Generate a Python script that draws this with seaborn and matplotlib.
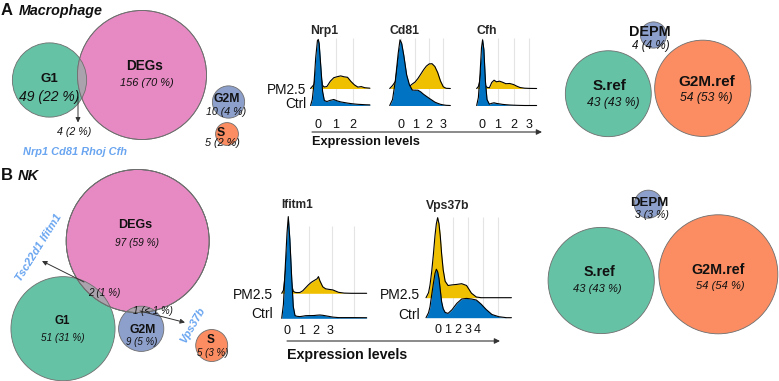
"""Macrophage / NK: Venn pe faze de ciclu celular si ridgeline-uri de expresie."""

import matplotlib.pyplot as plt
import numpy as np
import seaborn as sns
from matplotlib.patches import Circle

sns.set_theme(style="white")
plt.rcParams["font.family"] = ["Liberation Sans", "DejaVu Sans"]

W, H = 779, 381

# ---- date ----
cell_sets = ["G1", "DEGs", "G2M", "S"]
mac_only = [49, 156, 10, 5]
mac_g1_degs = 4
mac_genes = ["Nrp1", "Cd81", "Rhoj", "Cfh"]

nk_only = [51, 97, 9, 5]
nk_g1_degs = 2
nk_g2m_degs = 1
nk_genes_g1 = ["Tsc22d1", "Ifitm1"]
nk_genes_g2m = ["Vps37b"]

ref_sets = ["S.ref", "G2M.ref", "DEPM"]
mac_ref = [43, 54, 4]
nk_ref = [43, 54, 3]

groups = ["Ctrl", "PM2.5"]

# inaltimi de densitate
nrp1_x = [-0.45, -0.35, -0.25, -0.15, -0.05, 0.0, 0.05, 0.15, 0.25, 0.35, 0.5, 0.7,
          0.9, 1.1, 1.3, 1.5, 1.7, 1.9, 2.1, 2.3, 2.5, 2.7, 3.0]
nrp1_ctrl = [0, 6, 22, 48, 65, 66, 62, 38, 14, 5, 4, 5.2, 6, 4.6, 3.6, 3, 2.4, 1.9,
             1.5, 1.2, 1, 0.8, 0.6]
nrp1_pm = [0, 2, 4, 14, 28, 30, 28, 12, 3, 1.5, 2, 7.3, 10.8, 11.8, 12.6, 11.7, 11.2,
           7, 3.6, 1.4, 1.9, 0.8, 0.3]

cd81_x = [-0.8, -0.6, -0.4, -0.2, -0.07, 0.05, 0.2, 0.4, 0.6, 0.8, 1.0, 1.2, 1.4,
          1.6, 1.8, 2.0, 2.2, 2.4, 2.6, 2.8, 3.0, 3.2, 3.5]
cd81_ctrl = [0, 6, 25, 52, 65.7, 62, 50, 30.7, 20.5, 15.5, 15.3, 15.3, 13.6, 11.2,
             9.2, 7.2, 5.3, 3.4, 2.2, 1.2, 0.6, 0.2, 0]
cd81_pm = [0, 3, 7, 28, 40, 38, 28, 8, 2.2, 4.5, 6.5, 10, 14.3, 18.7, 22.4, 24.6,
           24.8, 22, 16, 7.5, 1.7, 0.2, 0]

cfh_x = [-0.36, -0.25, -0.15, -0.05, 0.02, 0.1, 0.2, 0.3, 0.45, 0.6, 0.75, 0.9, 1.1,
         1.3, 1.5, 1.75, 2.0, 2.2, 2.4, 2.7, 3.0, 3.46]
cfh_ctrl = [0, 8, 30, 58, 65.7, 56, 24, 6, 1.3, 2.2, 2.7, 2.1, 1.6, 1.1, 0.8, 0.5,
            0.3, 0.2, 0.1, 0, 0, 0]
cfh_pm = [0, 2, 8, 25, 32, 22, 3, 1.2, 0.7, 6, 8.3, 6.7, 7.3, 6.2, 4.8, 5, 3.9, 2.3,
          1, 0.3, 0.1, 0]

ifitm1_x = [-0.37, -0.25, -0.12, 0, 0.09, 0.2, 0.33, 0.44, 0.56, 0.7, 0.9, 1.1, 1.3,
            1.5, 1.7, 1.9, 2.1, 2.2, 2.3, 2.5, 2.7, 2.9, 3.2, 3.6, 4.0, 4.5, 5.57]
ifitm1_ctrl = [0, 14, 52, 85, 101.7, 79, 40, 11.7, 2.7, 2, 1.7, 2.1, 2.6, 2.7, 2.7,
               2.8, 3.1, 3.2, 3.3, 3, 2.5, 2, 1.2, 0.7, 0.7, 0.7, 0.6]
ifitm1_pm = [0, 3, 20, 40, 50, 35, 8, 2, 1, 0.7, 0.8, 2.5, 5.5, 8.5, 11, 12.8, 14.5,
             16.7, 12.5, 6.5, 4.5, 4, 3.4, 1, 0.2, 0, 0]

vps37b_x = [-1.26, -1.0, -0.85, -0.68, -0.51, -0.34, -0.2, -0.07, 0.07, 0.2, 0.34,
            0.5, 0.7, 1.0, 1.4, 1.9, 2.4, 2.9, 3.4, 3.9, 4.4, 4.9, 5.5, 6.2, 7.0, 7.5]
vps37b_ctrl = [0, 5, 11, 22.7, 34, 44.3, 48.5, 46, 39.3, 28, 16, 9, 5.3, 4.3, 7.9,
               14.3, 18.7, 19.3, 18.7, 17.7, 13.5, 8.3, 3.2, 1, 0, 0]
vps37b_pm = [0, 5, 12.7, 26, 42.7, 62, 74, 80, 74, 62, 44, 28, 16.5, 12.2, 12.8, 13.3,
             14, 12.2, 4.5, 0.7, 0, 0, 0, 0, 0, 0]

pal = sns.color_palette("Set2")
SET_COLORS = {"G1": pal[0], "DEGs": pal[3], "G2M": pal[2], "S": pal[1],
              "S.ref": pal[0], "G2M.ref": pal[1], "DEPM": pal[2]}
OVERLAP = "#aaa3ae"
EDGE = "#6e6e6e"
BLUE, YELLOW = "#0073C2", "#EFC000"
GENE_COL = "#69a5f0"

fig = plt.figure(figsize=(W / 100, H / 100), dpi=100)
ax = fig.add_axes([0, 0, 1, 1])
ax.set_xlim(0, W)
ax.set_ylim(H, 0)
ax.axis("off")


def pct(n, total):
    p = 100 * n / total
    return "< 1" if p < 1 else str(round(p))


def count_label(n, total):
    return f"{n} ({pct(n, total)} %)"


def txt(x, y, s, size, bold=False, italic=False, color="#111111", **kw):
    kw.setdefault("ha", "center")
    kw.setdefault("va", "center_baseline")
    ax.text(x, y, s, fontsize=size, color=color,
            fontweight="bold" if bold else "normal",
            fontstyle="italic" if italic else "normal", zorder=10, **kw)


def circle(xy, n, k, name):
    c = Circle(xy, k * np.sqrt(n), facecolor=SET_COLORS[name], edgecolor=EDGE,
               lw=0.6, zorder=2)
    ax.add_patch(c)
    return c


def overlap(inner_xy, inner_n, outer, k):
    o = Circle(inner_xy, k * np.sqrt(inner_n), facecolor=OVERLAP, edgecolor=EDGE,
               lw=0.6, zorder=3)
    ax.add_patch(o)
    o.set_clip_path(outer)
    ax.add_patch(Circle(outer.center, outer.radius, fill=False, edgecolor=EDGE,
                        lw=0.6, zorder=4))


def arrow(start, end, lw=0.7, scale=7):
    ax.annotate("", xy=end, xytext=start, zorder=9,
                arrowprops=dict(arrowstyle="-|>", color="#333333", lw=lw,
                                mutation_scale=scale, shrinkA=0, shrinkB=0))


# ---- A: Macrophage ----
txt(1, 15, "A", 12, bold=True, ha="left", va="baseline")
txt(19, 15, "Macrophage", 10.3, bold=True, italic=True, ha="left", va="baseline")

tot = sum(mac_only) + mac_g1_degs
k = 5.1
g1 = circle((49.5, 80), mac_only[0] + mac_g1_degs, k, "G1")
degs = circle((142, 75), mac_only[1] + mac_g1_degs, k, "DEGs")
overlap((49.5, 80), mac_only[0] + mac_g1_degs, degs, k)
circle((228.5, 102), mac_only[2], k, "G2M")
circle((227, 134), mac_only[3], k, "S")

txt(49, 78, "G1", 9.5, bold=True)
txt(49, 95.5, count_label(mac_only[0], tot), 10, italic=True)
txt(145, 64.5, "DEGs", 9.8, bold=True)
txt(147, 81.5, count_label(mac_only[1], tot), 7.9, italic=True)
txt(226.5, 97, "G2M", 8.8, bold=True)
txt(226.5, 111, count_label(mac_only[2], tot), 7.7, italic=True)
txt(220.5, 132, "S", 8.8, bold=True)
txt(222.5, 142.5, count_label(mac_only[3], tot), 7.8, italic=True)
arrow((78, 97), (78, 122.5))
txt(74, 131, count_label(mac_g1_degs, tot), 7.7, italic=True)
txt(75, 151, " ".join(mac_genes), 7.9, bold=True, italic=True, color=GENE_COL)

tot = sum(mac_ref)
k = 6.55
circle((608.3, 93.7), mac_ref[0], k, "S.ref")
circle((702.8, 88.3), mac_ref[1], k, "G2M.ref")
circle((653.5, 35), mac_ref[2], k, "DEPM")
txt(609.7, 85, "S.ref", 11, bold=True)
txt(613.7, 101.5, count_label(mac_ref[0], tot), 8.7, italic=True)
txt(706.3, 81, "G2M.ref", 11, bold=True)
txt(706.7, 97, count_label(mac_ref[1], tot), 8.7, italic=True)
txt(650, 30.5, "DEPM", 10.4, bold=True)
txt(651, 44.5, count_label(mac_ref[2], tot), 8.4, italic=True)

# ---- B: NK ----
txt(1, 180, "B", 12, bold=True, ha="left", va="baseline")
txt(18, 180, "NK", 10.5, bold=True, italic=True, ha="left", va="baseline")

tot = sum(nk_only) + nk_g1_degs + nk_g2m_degs
k = 7.15
g1_xy, g2m_xy = (63, 328.7), (141.2, 328.8)
circle(g1_xy, nk_only[0] + nk_g1_degs, k, "G1")
circle(g2m_xy, nk_only[2] + nk_g2m_degs, k, "G2M")
degs = circle((137.7, 241), nk_only[1] + nk_g1_degs + nk_g2m_degs, k, "DEGs")
overlap(g1_xy, nk_only[0] + nk_g1_degs, degs, k)
overlap(g2m_xy, nk_only[2] + nk_g2m_degs, degs, k)
circle((211.7, 345.5), nk_only[3], k, "S")

txt(135.2, 224, "DEGs", 9, bold=True)
txt(136.7, 241.5, count_label(nk_only[1], tot), 7.3, italic=True)
txt(62.5, 319.5, "G1", 8.3, bold=True)
txt(63, 337, count_label(nk_only[0], tot), 7.2, italic=True)
txt(104.2, 291.5, count_label(nk_g1_degs, tot), 7.2, italic=True)
txt(142.3, 328.7, "G2M", 8.7, bold=True)
txt(141.7, 340.7, count_label(nk_only[2], tot), 7, italic=True)
txt(153.3, 309.5, count_label(nk_g2m_degs, tot), 7, italic=True)
txt(210.8, 338.5, "S", 8.5, bold=True)
txt(212.5, 352, count_label(nk_only[3], tot), 7, italic=True)
arrow((84, 282), (42, 261))
arrow((140, 311), (185, 322.5))
txt(38, 247.5, " ".join(nk_genes_g1), 8, bold=True, italic=True, color=GENE_COL,
    rotation=58, rotation_mode="anchor")
txt(192, 325, " ".join(nk_genes_g2m), 8, bold=True, italic=True, color=GENE_COL,
    rotation=60, rotation_mode="anchor")

tot = sum(nk_ref)
k = 8.1
circle((601.2, 280.5), nk_ref[0], k, "S.ref")
circle((718.3, 274.3), nk_ref[1], k, "G2M.ref")
circle((648.3, 204.2), nk_ref[2], k, "DEPM")
txt(599.3, 270, "S.ref", 10.3, bold=True)
txt(597.3, 288.5, count_label(nk_ref[0], tot), 8, italic=True)
txt(718.3, 268.5, "G2M.ref", 10.3, bold=True)
txt(720.3, 284.7, count_label(nk_ref[1], tot), 8, italic=True)
txt(649.2, 201.5, "DEPM", 9.5, bold=True)
txt(652, 214.5, count_label(nk_ref[2], tot), 7.6, italic=True)

# ---- ridgeline-uri ----
row_a = dict(base=105.5, top=68, grid_top=68, gap=17, label_y=[3.0, 16.5],
             xpad=9.5, ypad=3.2, label_size=9.8, title_pad=2.2, title_size=8.8)
row_b1 = dict(base=318.3, top=102, grid_top=92, gap=25, label_y=[5.3, 25],
              xpad=4.6, ypad=6, label_size=10, title_pad=5.8, title_size=8.6)
row_b2 = dict(base=317.7, top=102, grid_top=101, gap=20, label_y=[4.4, 24],
              xpad=4.8, ypad=4.3, label_size=10, title_pad=4.8, title_size=8.8)

ridges = [
    dict(name="Nrp1", x=nrp1_x, ctrl=nrp1_ctrl, pm=nrp1_pm, x0=318.3, unit=17.2,
         ticks=[0, 1, 2], grid=[0, 1, 2], labels=True, row=row_a),
    dict(name="Cd81", x=cd81_x, ctrl=cd81_ctrl, pm=cd81_pm, x0=401, unit=14.1,
         ticks=[0, 1, 2, 3], grid=[0, 1, 2, 3], labels=False, row=row_a),
    dict(name="Cfh", x=cfh_x, ctrl=cfh_ctrl, pm=cfh_pm, x0=482.3, unit=15.7,
         ticks=[0, 1, 2, 3], grid=[0, 1, 2, 3], labels=False, row=row_a),
    dict(name="Ifitm1", x=ifitm1_x, ctrl=ifitm1_ctrl, pm=ifitm1_pm, x0=287,
         unit=14.3, ticks=[0, 1, 2, 3], grid=[0, 1.56, 3.12, 4.68], labels=True,
         row=row_b1),
    dict(name="Vps37b", x=vps37b_x, ctrl=vps37b_ctrl, pm=vps37b_pm, x0=438.3,
         unit=9.75, ticks=[0, 1, 2, 3, 4], grid=[0, 1.5, 3.08, 4.62, 6.15],
         labels=True, row=row_b2),
]

for r in ridges:
    row = r["row"]
    x = np.array(r["x"])
    ctrl = np.array(r["ctrl"])
    pm = np.array(r["pm"]) + row["gap"]
    left = r["x0"] + x[0] * r["unit"]
    width = (x[-1] - x[0]) * r["unit"]
    rax = fig.add_axes([left / W, 1 - row["base"] / H, width / W, row["top"] / H])
    rax.patch.set_alpha(0)
    rax.vlines(r["grid"], 0, row["grid_top"], color="#e4e4e4", lw=0.8, zorder=0)
    rax.fill_between(x, row["gap"], pm, color=YELLOW, lw=0, zorder=1)
    sns.lineplot(x=x, y=pm, color="black", lw=0.8, ax=rax, zorder=2)
    rax.fill_between(x, 0, ctrl, color=BLUE, lw=0, zorder=3)
    sns.lineplot(x=x, y=ctrl, color="black", lw=0.8, ax=rax, zorder=4)
    for ln in rax.lines:
        ln.set_clip_on(False)
    rax.set_xlim(x[0], x[-1])
    rax.set_ylim(0, row["top"])
    rax.set_xticks(r["ticks"])
    rax.tick_params(axis="x", length=0, pad=row["xpad"], labelsize=9, colors="#111111")
    if r["labels"]:
        rax.set_yticks(row["label_y"], groups)
        rax.tick_params(axis="y", length=0, pad=row["ypad"],
                        labelsize=row["label_size"], colors="#111111")
    else:
        rax.set_yticks([])
    rax.set_xlabel("")
    rax.set_ylabel("")
    sns.despine(ax=rax, left=True, bottom=True)
    rax.set_title(r["name"], loc="left", fontsize=row["title_size"],
                  fontweight="bold", pad=row["title_pad"])

arrow((312, 132), (542, 132), lw=0.8, scale=8)
txt(311.7, 140, "Expression levels", 9.2, bold=True, ha="left")
arrow((287, 341), (500, 341), lw=0.8, scale=8)
txt(286.7, 353, "Expression levels", 10.3, bold=True, ha="left")

fig.savefig("out.png", dpi=100)
